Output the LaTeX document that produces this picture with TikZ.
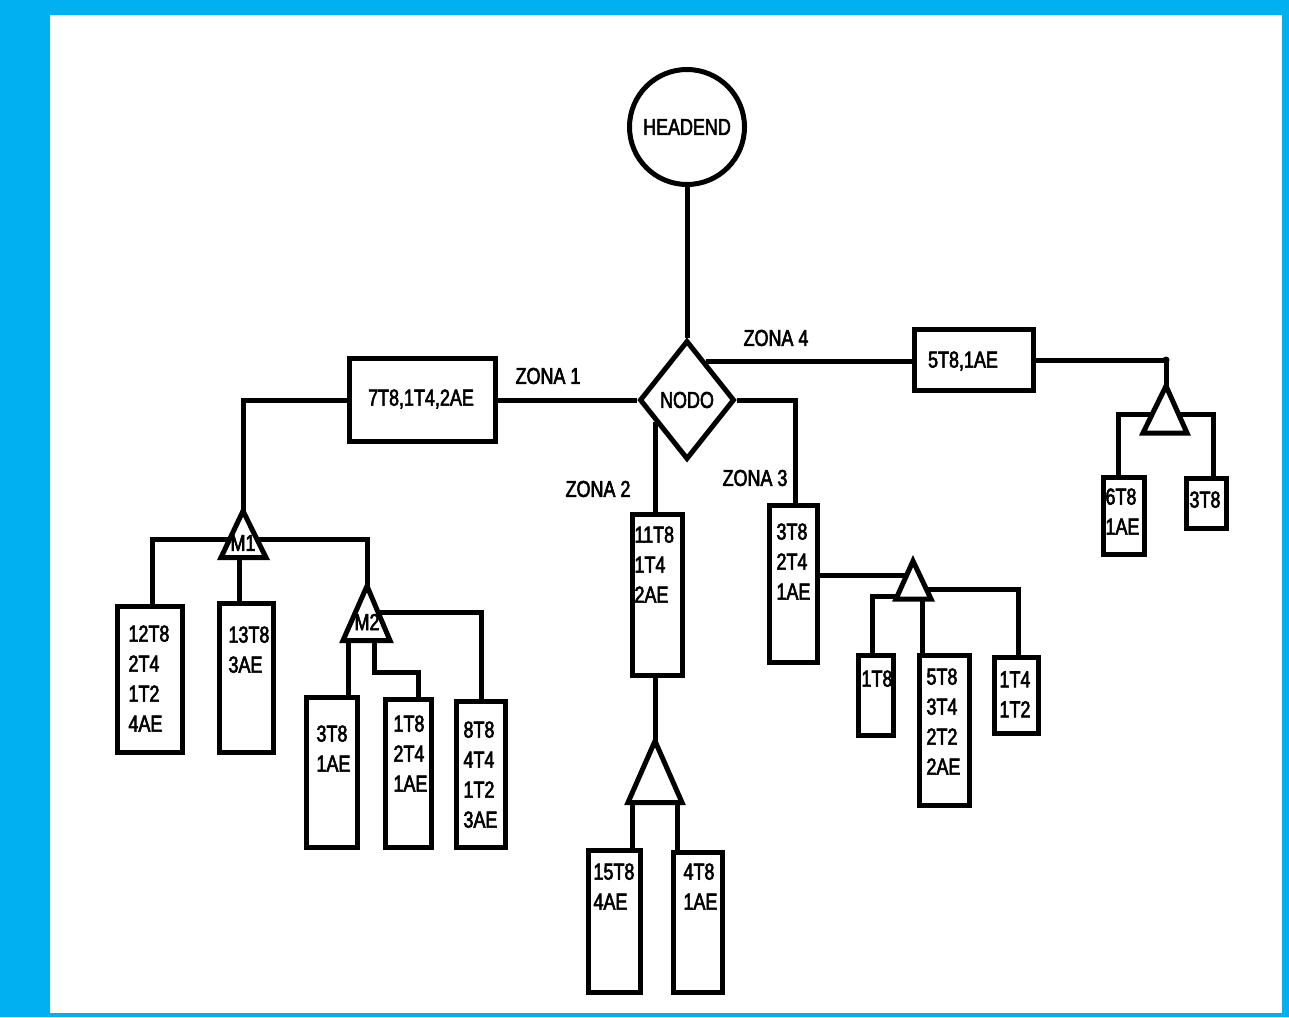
\documentclass[tikz,border=0pt]{standalone}
\usepackage{fontspec}
\setmainfont{Liberation Sans}[FakeStretch=0.78,FakeBold=2.5]
\usetikzlibrary{shapes.geometric,calc}
\definecolor{frameblue}{RGB}{0,176,240}
\newcommand\mybox[5]{%
  \node[box, minimum width={#4-#2-5}, minimum height={#5-#3-5}] (#1) at ({#2+2.5},{#3+2.5}) {};}
\begin{document}
\begin{tikzpicture}[x=1pt,y=-1pt, line width=5pt,
  every node/.style={font=\fontsize{23}{30}\selectfont, text=black},
  box/.style={draw, rectangle, inner sep=0pt, outer sep=0pt, anchor=north west},
  lbl/.style={inner sep=0pt, align=left, anchor=north west, xshift=-2pt, yshift=4pt},
  zlbl/.style={inner sep=0pt, anchor=center},
  tri/.style={draw, line join=miter}]
\useasboundingbox (0,0) rectangle (1289,1017);
\fill[frameblue] (0,0) rectangle (1289,1017);
\fill[white] (50,15) rectangle (1282,1013);

% main nodes
\node[draw, circle, minimum size=115, inner sep=0pt] (head) at (687,127) {HEADEND};
\node[draw, diamond, minimum width=95, minimum height=119, inner sep=0pt] (nodo) at (687,400) {NODO};
\draw (head.south) -- (nodo.north);

% zone labels
\node[zlbl] (lz1) at (548,376) {ZONA 1};
\node[zlbl] (lz2) at (598,489) {ZONA 2};
\node[zlbl] (lz3) at (755,478) {ZONA 3};
\node[zlbl] (lz4) at (776,338) {ZONA 4};

% boxes
\mybox{z1}{347}{356}{498}{444}
\node[zlbl] (z1t) at (421,399) {7T8,1T4,2AE};
\mybox{z4}{912}{327}{1036}{393}
\node[zlbl] (z4t) at (963,361) {5T8,1AE};
\mybox{z2}{630}{512}{685}{678}
\node[lbl] (z2t) at (634,528) {11T8\\1T4\\2AE};
\mybox{z3}{767}{503}{820}{665}
\node[lbl] (z3t) at (776,525) {3T8\\2T4\\1AE};

\mybox{b12}{115}{604}{185}{755}
\node[lbl] (b12t) at (128,627) {12T8\\2T4\\1T2\\4AE};
\mybox{b13}{217}{601}{276}{755}
\node[lbl] (b13t) at (228,628) {13T8\\3AE};
\mybox{b3}{304}{695}{360}{850}
\node[lbl] (b3t) at (316,727) {3T8\\1AE};
\mybox{b1t8}{383}{697}{434}{850}
\node[lbl] (b1t8t) at (393,717) {1T8\\2T4\\1AE};
\mybox{b8}{454}{699}{508}{850}
\node[lbl] (b8t) at (463,723) {8T8\\4T4\\1T2\\3AE};

\mybox{b15}{586}{848}{643}{995}
\node[lbl] (b15t) at (593,865) {15T8\\4AE};
\mybox{b4}{671}{850}{725}{995}
\node[lbl] (b4t) at (683,865) {4T8\\1AE};

\mybox{b1t8b}{856}{653}{896}{738}
\node[lbl] (b1t8bt) at (861,672) {1T8};
\mybox{b5}{917}{653}{972}{808}
\node[lbl] (b5t) at (926,670) {5T8\\3T4\\2T2\\2AE};
\mybox{b14}{992}{655}{1041}{736}
\node[lbl] (b14t) at (999,673) {1T4\\1T2};

\mybox{b6}{1101}{475}{1147}{557}
\node[lbl] (b6t) at (1105,490) {6T8\\1AE};
\mybox{b3r}{1184}{476}{1229}{531}
\node[lbl] (b3rt) at (1189,493) {3T8};

% triangles (taps)
\coordinate (t1a) at (243,511); \coordinate (t1l) at (221,557.5); \coordinate (t1r) at (266,557.5);
\draw[tri] (t1a) -- (t1l) -- (t1r) -- cycle;
\node[zlbl] (m1) at (243,543) {M1};
\coordinate (m2a) at (367,586); \coordinate (m2l) at (343,640.5); \coordinate (m2r) at (390,640.5);
\draw[tri] (m2a) -- (m2l) -- (m2r) -- cycle;
\node[zlbl] (m2) at (367,622) {M2};
\coordinate (t2a) at (655,741); \coordinate (t2l) at (628,802.5); \coordinate (t2r) at (682,802.5);
\draw[tri] (t2a) -- (t2l) -- (t2r) -- cycle;
\coordinate (t3a) at (913,561); \coordinate (t3l) at (896,599); \coordinate (t3r) at (931,599);
\draw[tri] (t3a) -- (t3l) -- (t3r) -- cycle;
\coordinate (t4a) at (1166,386); \coordinate (t4l) at (1143,433); \coordinate (t4r) at (1187,433);
\draw[tri] (t4a) -- (t4l) -- (t4r) -- cycle;

% zone 1
\draw (nodo.west) -- (z1.east);
\draw (z1.west) -| (t1a);
\coordinate (m1L) at (intersection of t1a--t1l and 0,539--10,539);
\coordinate (m1R) at (intersection of t1a--t1r and 0,539--10,539);
\draw (m1L) -| ([xshift=2pt]b12.north);
\draw (m1R) -| (m2a);
\coordinate (m1b) at ($(t1l)!0.42!(t1r)$);
\draw (m1b) -- (m1b |- b13.north);
\coordinate (m2R) at (intersection of m2a--m2r and 0,612--10,612);
\draw (m2R) -| (b8.north);
\coordinate (m2b1) at ($(m2l)!0.11!(m2r)$);
\draw (m2b1) -- (m2b1 |- b3.north);
\coordinate (m2b2) at ($(m2l)!0.68!(m2r)$);
\draw (m2b2) -- ++(0,32) -| ([xshift=9.5pt]b1t8.north);

% zone 2
\coordinate (z2a) at ($(nodo.west)!0.36!(nodo.south)$);
\draw (z2a) -- (z2a |- z2.north);
\draw (z2.south -| t2a) -- (t2a);
\coordinate (t2b1) at ($(t2l)!0.09!(t2r)$);
\coordinate (t2b2) at ($(t2l)!0.91!(t2r)$);
\draw (t2b1) -- (t2b1 |- b15.north);
\draw (t2b2) -- (t2b2 |- b4.north);

% zone 3
\draw (nodo.east) -| ([xshift=1.5pt]z3.north);
\coordinate (z3o) at (z3.east |- 0,575);
\coordinate (t3in) at (intersection of t3a--t3l and 0,575--10,575);
\draw (z3o) -- (t3in);
\coordinate (t3L) at (intersection of t3a--t3l and 0,596--10,596);
\draw (t3L) -| ([xshift=-4pt]b1t8b.north);
\coordinate (t3b) at ($(t3l)!0.77!(t3r)$);
\draw (t3b) -- (t3b |- b5.north);
\coordinate (t3R) at (intersection of t3a--t3r and 0,589--10,589);
\draw (t3R) -| ([xshift=1.5pt]b14.north);

% zone 4
\coordinate (z4a) at ($(nodo.north)!0.38!(nodo.east)$);
\draw (z4a) -- (z4a -| z4.west);
\coordinate (t4j) at (t4a |- z4.east);
\draw (z4.east) -- (t4j) -- (t4a);
\fill (t4j) circle (3.5pt);
\coordinate (t4L) at (intersection of t4a--t4l and 0,414--10,414);
\draw (t4L) -| ([xshift=-6pt]b6.north);
\coordinate (t4R) at (intersection of t4a--t4r and 0,414--10,414);
\draw (t4R) -| ([xshift=6.5pt]b3r.north);
\end{tikzpicture}
\end{document}
